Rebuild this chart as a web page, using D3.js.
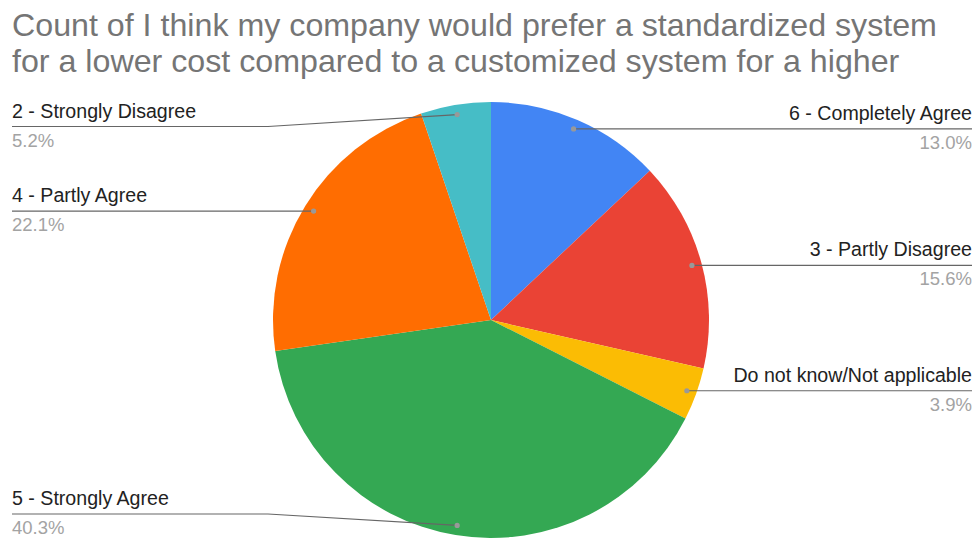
<!DOCTYPE html>
<html>
<head>
<meta charset="utf-8">
<script src="https://cdn.jsdelivr.net/npm/d3@7"></script>
<style>
  html, body { margin: 0; padding: 0; background: #fff; }
  svg { display: block; font-family: "Liberation Sans", Arial, sans-serif; }
</style>
</head>
<body>
<svg id="chart" width="978" height="538"></svg>
<script>
// Survey responses, in slice order (clockwise from 12 o'clock)
const categories = [
  "6 - Completely Agree",
  "3 - Partly Disagree",
  "Do not know/Not applicable",
  "5 - Strongly Agree",
  "4 - Partly Agree",
  "2 - Strongly Disagree"
];
const counts = [10, 12, 3, 31, 17, 4];
const colors = ["#4285F4", "#EA4335", "#FBBC04", "#34A853", "#FF6D01", "#46BDC6"];
const titleLines = [
  "Count of I think my company would prefer a standardized system",
  "for a lower cost compared to a customized system for a higher"
];

const W = 978, H = 538;
const cx = 491, cy = 320, R = 218;
const svg = d3.select("#chart");

// Title
svg.append("g").selectAll("text")
  .data(titleLines)
  .join("text")
  .attr("x", 12)
  .attr("y", (d, i) => 36 + i * 36)
  .attr("fill", "#757575")
  .attr("font-size", 32.2)
  .text(d => d);

const total = d3.sum(counts);
const pie = d3.pie().sort(null).value(d => d.value);
const arcs = pie(categories.map((c, i) => ({ name: c, value: counts[i], color: colors[i] })));

const arc = d3.arc().innerRadius(0).outerRadius(R);
const g = svg.append("g").attr("transform", `translate(${cx},${cy})`);

g.selectAll("path")
  .data(arcs)
  .join("path")
  .attr("d", arc)
  .attr("fill", d => d.data.color);

// Leader lines and labels
const dotR = R * 0.955;
const fmt = d3.format(".1f");
const labels = svg.append("g");

arcs.forEach(d => {
  const mid = (d.startAngle + d.endAngle) / 2;
  const px = cx + dotR * Math.sin(mid);
  const py = cy - dotR * Math.cos(mid);
  const right = Math.sin(mid) > 0;
  const ly = Math.max(126.5, Math.min(514, py));
  const elbowX = right ? cx + R + 5 : cx - R - 5;
  const endX = right ? 972 : 12;

  const pts = Math.abs(ly - py) > 0.5
    ? [[px, py], [elbowX, ly], [endX, ly]]
    : [[px, py], [endX, ly]];

  labels.append("path")
    .attr("d", d3.line()(pts))
    .attr("fill", "none")
    .attr("stroke", "#666")
    .attr("stroke-width", 1.2);

  labels.append("circle")
    .attr("cx", px).attr("cy", py).attr("r", 2.6)
    .attr("fill", "#999");

  labels.append("text")
    .attr("x", endX).attr("y", ly - 9)
    .attr("text-anchor", right ? "end" : "start")
    .attr("font-size", 19.6)
    .attr("fill", "#222")
    .text(d.data.name);

  labels.append("text")
    .attr("x", endX).attr("y", ly + 20)
    .attr("text-anchor", right ? "end" : "start")
    .attr("font-size", 18.5)
    .attr("fill", "#a3a3a3")
    .text(fmt(d.data.value / total * 100) + "%");
});
</script>
</body>
</html>
